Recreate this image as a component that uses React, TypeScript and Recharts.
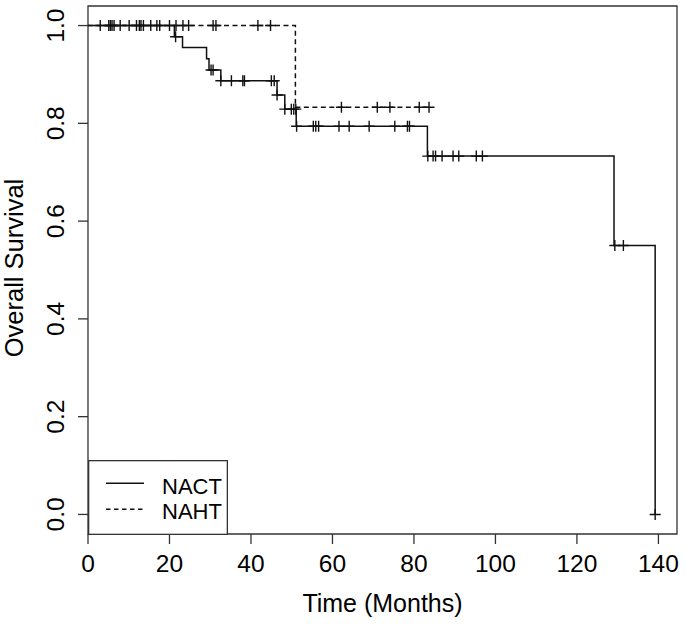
import React from 'react';
import { ComposedChart, Line, Scatter, XAxis, YAxis, ReferenceArea, Legend, Label } from 'recharts';

const FONT = '"Liberation Sans", Arial, sans-serif';

const xTicks = [0, 20, 40, 60, 80, 100, 120, 140];
const yTicks = [0, 0.2, 0.4, 0.6, 0.8, 1.0];
const xDomainMax = 144.56;
const yDomain = [-0.04, 1.04];

// Kaplan-Meier step points (time in months, survival)
const nactTimes = [0, 21.2, 23.2, 29.1, 29.7, 32.6, 46.4, 48.3, 51.1, 83.3, 129.1, 139.2];
const nactSurv = [1, 0.977, 0.955, 0.932, 0.909, 0.887, 0.858, 0.829, 0.794, 0.733, 0.55, 0];
const nahtTimes = [0, 50.9, 84.0];
const nahtSurv = [1, 0.833, 0.833];

// censoring times
const nactCensorTimes = [
  3.0, 5.5, 6.4, 10.1, 12.6, 13.6, 16.9, 20.0,
  21.5,
  30.2, 30.7,
  32.6, 35.2, 38.0, 38.4, 45.0, 45.7,
  46.4,
  48.3, 49.9, 50.5, 51.0,
  51.2, 55.3, 55.9, 56.6, 61.6, 64.1, 69.0, 75.3, 78.4, 78.9,
  83.4, 84.7, 85.3, 86.9, 89.6, 91.0, 95.3, 96.8,
  129.3, 131.4,
  139.2,
];
const nahtCensorTimes = [
  5.1, 5.9, 7.9, 11.9, 13.0, 15.4, 17.6, 21.6, 23.3, 24.7, 30.7, 31.4, 41.7, 44.8,
  62.2, 71.0, 74.1, 81.3, 83.7,
];

const survAt = (times: number[], surv: number[], t: number) => {
  let s = surv[0];
  for (let i = 0; i < times.length; i++) if (times[i] <= t) s = surv[i];
  return s;
};

const nactData = nactTimes.map((t, i) => ({ t, s: nactSurv[i] }));
const nahtData = nahtTimes.map((t, i) => ({ t, s: nahtSurv[i] }));
const nactCensor = nactCensorTimes.map((t) => ({ t, s: survAt(nactTimes, nactSurv, t) }));
const nahtCensor = nahtCensorTimes.map((t) => ({ t, s: survAt(nahtTimes, nahtSurv, t) }));

const PlusShape = (props: any) => {
  const { cx, cy } = props;
  if (cx == null || cy == null) return null;
  const h = 5.5;
  return (
    <path
      d={`M${cx - h},${cy}H${cx + h}M${cx},${cy - h}V${cy + h}`}
      stroke="#111"
      strokeWidth={1.4}
      fill="none"
    />
  );
};

const YTick = (props: any) => {
  const { y, payload } = props;
  return (
    <text
      x={0}
      y={0}
      transform={`translate(63.5, ${y}) rotate(-90)`}
      textAnchor="middle"
      fontSize={24.5}
      fontFamily={FONT}
      fill="#000"
    >
      {Number(payload.value).toFixed(1)}
    </text>
  );
};

const XTick = (props: any) => {
  const { x, payload } = props;
  return (
    <text x={x} y={571.5} textAnchor="middle" fontSize={24.5} fontFamily={FONT} fill="#000">
      {payload.value}
    </text>
  );
};

const renderLegend = () => (
  <svg width={140} height={75} style={{ display: 'block' }}>
    <rect x={0.65} y={0.65} width={138.7} height={73.7} fill="#fff" stroke="#333" strokeWidth={1.3} />
    <line x1={18} x2={56} y1={23.3} y2={23.3} stroke="#111" strokeWidth={1.5} />
    <line x1={18} x2={56} y1={49.3} y2={49.3} stroke="#111" strokeWidth={1.5} strokeDasharray="4.5 3.5" />
    <text x={74} y={33.5} fontSize={22} fontFamily={FONT} fill="#000">NACT</text>
    <text x={74} y={59} fontSize={22} fontFamily={FONT} fill="#000">NAHT</text>
  </svg>
);

export default function App() {
  return (
    <div style={{ position: 'absolute', left: 0, top: 0, background: '#fff' }}>
      <ComposedChart width={686} height={626} margin={{ top: 6, right: 9, bottom: 0, left: 0 }}>
        <XAxis
          type="number"
          dataKey="t"
          domain={[0, xDomainMax]}
          ticks={xTicks}
          allowDataOverflow
          height={92}
          axisLine={false}
          tickSize={10}
          tickLine={{ stroke: '#333', strokeWidth: 1.3 }}
          tick={<XTick />}
          interval={0}
        >
          <Label
            content={(p: any) => {
              const vb = p.viewBox || {};
              return (
                <text
                  x={vb.x + vb.width / 2}
                  y={612}
                  textAnchor="middle"
                  fontSize={25}
                  fontFamily={FONT}
                  fill="#000"
                >
                  Time (Months)
                </text>
              );
            }}
          />
        </XAxis>
        <YAxis
          type="number"
          domain={yDomain}
          ticks={yTicks}
          allowDataOverflow
          width={88}
          axisLine={false}
          tickSize={10}
          tickLine={{ stroke: '#333', strokeWidth: 1.3 }}
          tick={<YTick />}
          interval={0}
        >
          <Label
            content={(p: any) => {
              const vb = p.viewBox || {};
              const cy = vb.y + vb.height / 2;
              return (
                <text
                  x={0}
                  y={0}
                  transform={`translate(23, ${cy - 2}) rotate(-90)`}
                  textAnchor="middle"
                  fontSize={25.5}
                  fontFamily={FONT}
                  fill="#000"
                >
                  Overall Survival
                </text>
              );
            }}
          />
        </YAxis>
        <ReferenceArea
          x1={0}
          x2={xDomainMax}
          y1={yDomain[0]}
          y2={yDomain[1]}
          fill="none"
          fillOpacity={0}
          stroke="#333"
          strokeWidth={1.3}
          ifOverflow="visible"
        />
        <Line
          data={nahtData}
          dataKey="s"
          type="stepAfter"
          stroke="#111"
          strokeWidth={1.5}
          strokeDasharray="5 3.5"
          dot={false}
          activeDot={false}
          isAnimationActive={false}
          legendType="none"
        />
        <Line
          data={nactData}
          dataKey="s"
          type="stepAfter"
          stroke="#111"
          strokeWidth={1.5}
          dot={false}
          activeDot={false}
          isAnimationActive={false}
          legendType="none"
        />
        <Scatter data={nactCensor} dataKey="s" shape={<PlusShape />} isAnimationActive={false} legendType="none" />
        <Scatter data={nahtCensor} dataKey="s" shape={<PlusShape />} isAnimationActive={false} legendType="none" />
        <Legend
          content={renderLegend}
          layout="horizontal"
          verticalAlign="middle"
          align="center"
          wrapperStyle={{ left: 88, top: 460, width: 140, height: 75, margin: 0, padding: 0 }}
        />
      </ComposedChart>
    </div>
  );
}
